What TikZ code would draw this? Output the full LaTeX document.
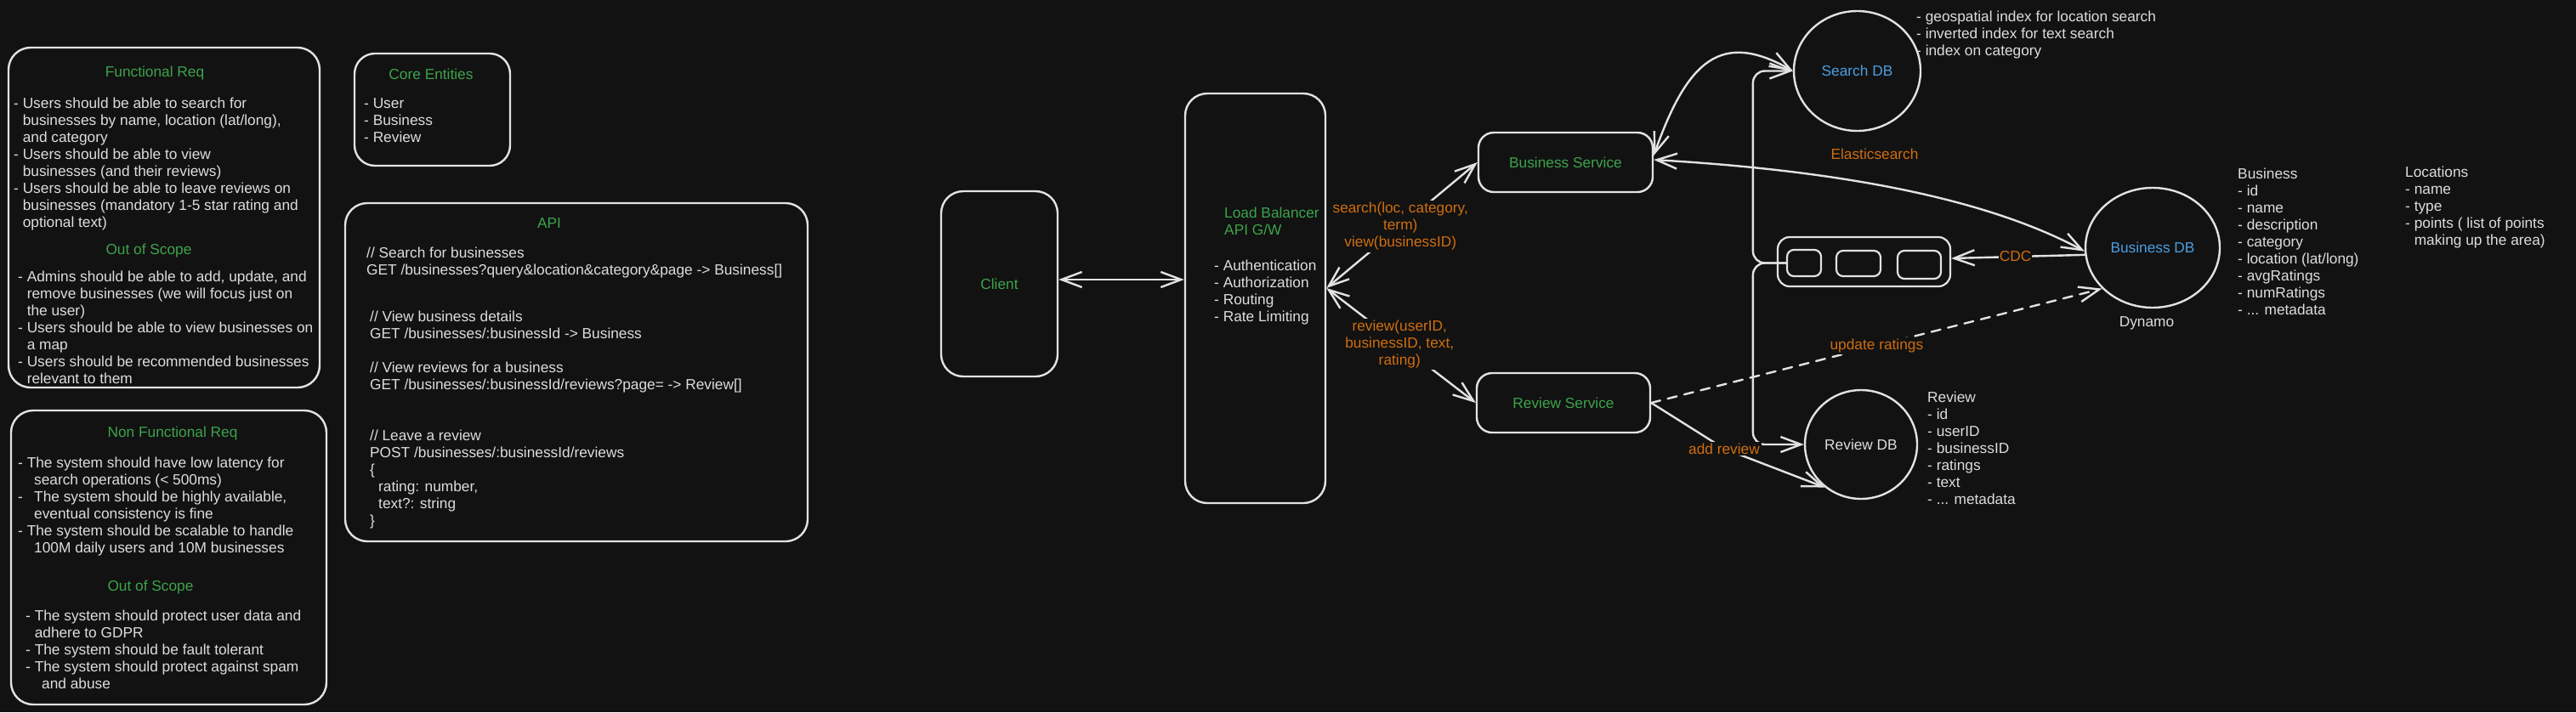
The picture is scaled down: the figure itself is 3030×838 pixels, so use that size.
\documentclass[tikz,border=0pt]{standalone}
\usepackage{fontspec}
\setmainfont{Liberation Sans}
\usetikzlibrary{arrows.meta,shapes.geometric}
\definecolor{bgc}{HTML}{121212}
\definecolor{strk}{HTML}{E2E2E2}
\definecolor{txtc}{HTML}{DDDDDD}
\definecolor{grn}{HTML}{3DA34B}
\definecolor{org}{HTML}{CF6E10}
\definecolor{blu}{HTML}{4B9EE3}
\newcommand{\fs}{\fontsize{17.3}{20}\selectfont}
\newcommand{\ind}{\hphantom{-\ }}
\newcommand{\indb}{\hspace*{19pt}}
\begin{document}
\begin{tikzpicture}[x=1pt,y=-1pt,line cap=round,line join=round,
  frame/.style={draw=strk,line width=2.4pt,rounded corners=26pt,inner sep=0pt},
  svc/.style={frame,rounded corners=18pt,text=grn,font=\fs},
  qbox/.style={draw=strk,line width=2.2pt,rounded corners=8pt,inner sep=0pt},
  db/.style={ellipse,draw=strk,line width=2.4pt,inner sep=0pt,font=\fs},
  txt/.style={text=txtc,font=\fs,inner sep=0pt,align=left,anchor=north west},
  ttl/.style={text=grn,font=\fs,inner sep=0pt,anchor=base},
  lbl/.style={text=org,font=\fs,fill=bgc,inner sep=2pt,align=center},
  arr/.style={draw=strk,line width=2.4pt,-{Straight Barb[length=24pt,width=18pt]}},
  dbl/.style={draw=strk,line width=2.4pt,{Straight Barb[length=24pt,width=18pt]}-{Straight Barb[length=24pt,width=18pt]}},
  dsh/.style={arr,dash pattern=on 11pt off 9pt}]
\fill[bgc] (0,0) rectangle (3030,838);
\useasboundingbox (0,0) rectangle (3030,838);

% ---------- left panels ----------
\node[frame,minimum width=366pt,minimum height=400pt] (func) at (193,256) {};
\node[ttl] (functitle) at (182,90.5) {Functional Req};
\node[txt] (functxt) at (16,115) {- Users should be able to search for\\\ind businesses by name, location (lat/long),\\\ind and category\\- Users should be able to view\\\ind businesses (and their reviews)\\- Users should be able to leave reviews on\\\ind businesses (mandatory 1-5 star rating and\\\ind optional text)};
\node[ttl] (oos1title) at (175,299.5) {Out of Scope};
\node[txt] (oos1txt) at (21,319) {- Admins should be able to add, update, and\\\ind remove businesses (we will focus just on\\\ind the user)\\- Users should be able to view businesses on\\\ind a map\\- Users should be recommended businesses\\\ind relevant to them};

\node[frame,minimum width=371pt,minimum height=346pt] (nfunc) at (198.5,656) {};
\node[ttl] (nftitle) at (203,514.5) {Non Functional Req};
\node[txt] (nftxt) at (21,538) {- The system should have low latency for\\\indb search operations (< 500ms)\\\makebox[19pt][l]{-}The system should be highly available,\\\indb eventual consistency is fine\\- The system should be scalable to handle\\\indb 100M daily users and 10M businesses};
\node[ttl] (oos2title) at (177,695.5) {Out of Scope};
\node[txt] (oos2txt) at (30,718) {- The system should protect user data and\\\ind adhere to GDPR\\- The system should be fault tolerant\\- The system should protect against spam\\\indb and abuse};

\node[frame,rounded corners=24pt,minimum width=183pt,minimum height=132pt] (core) at (508.5,129) {};
\node[ttl] (coretitle) at (507,93.5) {Core Entities};
\node[txt] (coretxt) at (428,115) {- User\\- Business\\- Review};

\node[frame,minimum width=544pt,minimum height=398pt] (api) at (678,438) {};
\node[ttl] (apititle) at (646,268.5) {API};
\node[txt] (api1) at (431,291) {// Search for businesses\\GET /businesses?query\&location\&category\&page -> Business[]};
\node[txt] (api2) at (435,366) {// View business details\\GET /businesses/:businessId -> Business};
\node[txt] (api3) at (435,426) {// View reviews for a business\\GET /businesses/:businessId/reviews?page= -> Review[]};
\node[txt] (api4) at (435,506) {// Leave a review\\POST /businesses/:businessId/reviews\\\{\\\hspace*{10pt}rating: number,\\\hspace*{10pt}text?: string\\\}};

% ---------- architecture ----------
\node[frame,minimum width=137pt,minimum height=218pt,text=grn,font=\fs] (client) at (1175.5,334) {Client};
\node[frame,minimum width=165pt,minimum height=482pt] (lb) at (1476.5,351) {};
\node[txt,text=grn] (lbtitle) at (1440,244) {Load Balancer\\API G/W};
\node[txt] (lbtxt) at (1428,306) {- Authentication\\- Authorization\\- Routing\\- Rate Limiting};

\node[svc,minimum width=205pt,minimum height=70pt] (bs) at (1841.5,191) {Business Service};
\node[svc,minimum width=204pt,minimum height=70pt] (rs) at (1839,474) {Review Service};

\node[db,minimum width=149pt,minimum height=141pt,text=blu] (sdb) at (2184.5,83.5) {Search DB};
\node[db,minimum width=158pt,minimum height=141pt,text=blu] (bdb) at (2532,291.5) {Business DB};
\node[db,minimum width=132pt,minimum height=128pt,text=txtc] (rdb) at (2189,523) {Review DB};

\node[qbox,rounded corners=14pt,minimum width=203pt,minimum height=58pt] (queue) at (2192.5,308) {};
\node[qbox,minimum width=40pt,minimum height=31pt] (q1) at (2122,309.5) {};
\node[qbox,minimum width=52pt,minimum height=30pt] (q2) at (2186,310) {};
\node[qbox,minimum width=51pt,minimum height=33pt] (q3) at (2257.5,311.5) {};

\node[txt] (sdbnotes) at (2254,13) {- geospatial index for location search\\- inverted index for text search\\- index on category};
\node[ttl,text=org] (es) at (2205,187.5) {Elasticsearch};
\node[ttl,text=txtc] (dynamo) at (2525,384.5) {Dynamo};
\node[txt] (bizschema) at (2632,198) {Business\\- id\\- name\\- description\\- category\\- location (lat/long)\\- avgRatings\\- numRatings\\- ... metadata};
\node[txt] (locschema) at (2829,196) {Locations\\- name\\- type\\- points ( list of points\\\ind making up the area)};
\node[txt] (revschema) at (2267,461) {Review\\- id\\- userID\\- businessID\\- ratings\\- text\\- ... metadata};

% ---------- connectors ----------
\coordinate (arm) at (2028,528);
\draw[dbl] ([yshift=5pt]client.east) -- ([yshift=5pt]client.east -| lb.west);
\draw[dbl] ([yshift=12pt]lb.east) -- node[lbl,pos=0.49] (searchlbl) {search(loc, category,\\term)\\view(businessID)} (bs.west);
\draw[dbl] ([yshift=12pt]lb.east) -- node[lbl,pos=0.49] (reviewlbl) {review(userID,\\businessID, text,\\rating)} (rs.west);
\draw[dbl] ([yshift=8pt]bs.east) .. controls (1985,70) and (2025,36) .. (sdb.west);
\draw[dbl] ([yshift=3pt]bs.east) .. controls (2150,200) and (2330,230) .. (bdb.183);
\draw[arr,rounded corners=14pt] (q1.west) -- ++(-39,0) |- (sdb.west);
\draw[arr,rounded corners=14pt] (q1.west) -- ++(-39,0) |- (rdb.west);
\draw[arr] (bdb.186) -- node[lbl,pos=0.52,inner sep=1pt] (cdclbl) {CDC} ([yshift=4pt]queue.east);
\draw[dsh] (rs.east) -- node[lbl,pos=0.5] (updlbl) {update ratings} (bdb.219);
\draw[arr] (rs.east) -- (arm) -- (rdb.230);
\node[lbl] (addlbl) at (arm) {add review};
\end{tikzpicture}
\end{document}
